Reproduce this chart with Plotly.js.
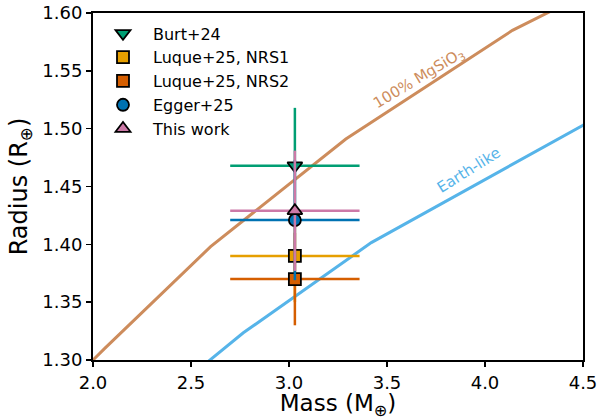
<!DOCTYPE html>
<html>
<head>
<meta charset="utf-8">
<script src="https://cdn.plot.ly/plotly-3.0.1.min.js"></script>
<style>html,body{margin:0;padding:0;background:#fff;}#chart{width:599px;height:420px;}</style>
</head>
<body>
<div id="chart"></div>
<script>
// Composition curves (mass in Earth masses, radius in Earth radii)
const mgsio3Mass   = [1.97, 2.06, 2.60, 3.29, 4.14, 4.60];
const mgsio3Radius = [1.295, 1.310, 1.398, 1.491, 1.585, 1.624];
const earthMass    = [2.55, 2.767, 3.42, 4.23, 4.50, 4.60];
const earthRadius  = [1.2935, 1.3235, 1.4015, 1.478, 1.503, 1.512];

// Measurements
const labels   = ["Burt+24", "Luque+25, NRS1", "Luque+25, NRS2", "Egger+25", "This work"];
const masses   = [3.03, 3.03, 3.03, 3.03, 3.03];
const massErr  = [0.33, 0.33, 0.33, 0.33, 0.33];
const radii    = [1.468, 1.390, 1.370, 1.421, 1.429];
const radiusErr= [0.050, 0.040, 0.040, 0.052, 0.052];
const colors   = ["#009E73", "#E69F00", "#D55E00", "#0072B2", "#CC79A7"];
const symbols  = ["triangle-down", "square", "square", "circle", "triangle-up"];
const sizes    = [13, 12, 12, 12, 13];

const font = "DejaVu Sans, sans-serif";
const traces = [
  {x: mgsio3Mass, y: mgsio3Radius, mode: "lines", line: {color: "#CD8C5C", width: 3}, showlegend: false, hoverinfo: "skip"},
  {x: earthMass, y: earthRadius, mode: "lines", line: {color: "#56B4E9", width: 3}, showlegend: false, hoverinfo: "skip"}
];
labels.forEach((lab, i) => {
  traces.push({
    x: [masses[i]], y: [radii[i]], name: lab, mode: "markers",
    marker: {symbol: symbols[i], size: sizes[i], color: colors[i], line: {color: "#000", width: 1.8}},
    error_x: {type: "data", array: [massErr[i]], color: colors[i], thickness: 2.5, width: 0},
    error_y: {type: "data", array: [radiusErr[i]], color: colors[i], thickness: 2.5, width: 0}
  });
});

const layout = {
  width: 599, height: 420,
  margin: {l: 93, r: 16, t: 13, b: 60},
  paper_bgcolor: "#fff", plot_bgcolor: "#fff",
  font: {family: font, color: "#000"},
  showlegend: true,
  legend: {x: 0.0, y: 0.99, xanchor: "left", yanchor: "top", bgcolor: "rgba(0,0,0,0)",
           font: {family: font, size: 16, color: "#000"}, itemwidth: 50},
  xaxis: {
    range: [2.0, 4.5], dtick: 0.5, tick0: 2.0, tickformat: ".1f",
    showgrid: false, zeroline: false, showline: true, linecolor: "#000", linewidth: 2, mirror: true,
    ticks: "outside", ticklen: 5, tickwidth: 1.5, tickcolor: "#000",
    tickfont: {family: font, size: 18, color: "#000"},
    title: {text: "Mass (M<sub>⊕</sub>)", font: {family: font, size: 23, color: "#000"}, standoff: 6}
  },
  yaxis: {
    range: [1.30, 1.60], dtick: 0.05, tick0: 1.30, tickformat: ".2f",
    showgrid: false, zeroline: false, showline: true, linecolor: "#000", linewidth: 2, mirror: true,
    ticks: "outside", ticklen: 5, tickwidth: 1.5, tickcolor: "#000",
    tickfont: {family: font, size: 18, color: "#000"},
    title: {text: "Radius (R<sub>⊕</sub>)", font: {family: font, size: 24, color: "#000"}, standoff: 8}
  },
  annotations: [
    {x: 3.663, y: 1.543, xref: "x", yref: "y", text: "100% MgSiO<sub>3</sub>", showarrow: false,
     textangle: -31, font: {family: font, size: 15, color: "#CD8C5C"}},
    {x: 3.918, y: 1.4643, xref: "x", yref: "y", text: "Earth-like", showarrow: false,
     textangle: -32, font: {family: font, size: 15, color: "#56B4E9"}}
  ]
};

Plotly.newPlot("chart", traces, layout, {displayModeBar: false, staticPlot: true});
</script>
</body>
</html>
